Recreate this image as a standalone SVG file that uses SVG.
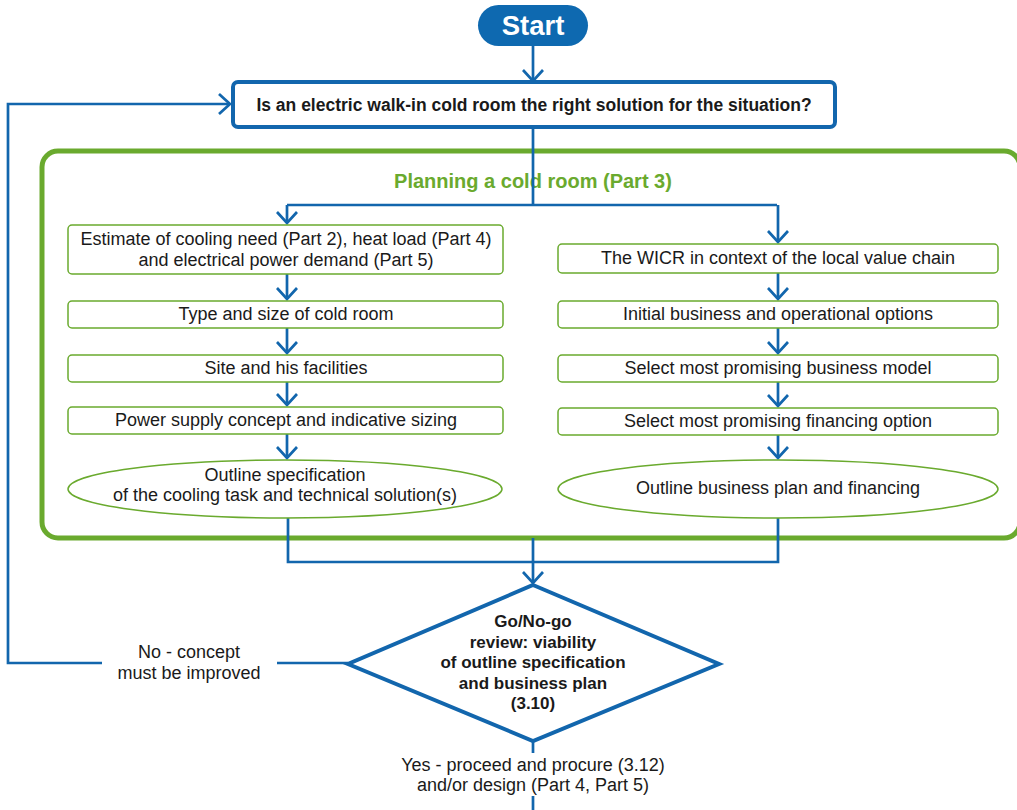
<svg xmlns="http://www.w3.org/2000/svg" width="1017" height="810" viewBox="0 0 1017 810">
<style>
.t{font-family:"Liberation Sans",Arial,sans-serif;font-size:18px;fill:#1a1a1a;text-anchor:middle}
.b{font-weight:bold}
.gbox{fill:#fff;stroke:#6aaa2e;stroke-width:1.5}
.con{fill:none;stroke:#1266ad;stroke-width:2.7}
.blue{fill:#fff;stroke:#1266ad;stroke-width:4}
</style>
<defs>
<marker id="arr" markerUnits="userSpaceOnUse" viewBox="-13 -12 15 24" refX="0" refY="0" markerWidth="15" markerHeight="24" orient="auto">
<path d="M-11,-10 L0,0 L-11,10" fill="none" stroke="#1266ad" stroke-width="2.7"/>
</marker>
</defs>
<rect width="1017" height="810" fill="#fff"/>
<g id="frame">
<rect x="42" y="151" width="978" height="387" rx="16" fill="none" stroke="#6aaa2e" stroke-width="5"/>
<text class="t b" x="533" y="188" style="fill:#6aaa2e;font-size:20px">Planning a cold room (Part 3)</text>
</g>
<g id="connectors">
<path class="con" d="M533,46 V81" marker-end="url(#arr)"/>
<path class="con" d="M102,663 H8 V104 H230" marker-end="url(#arr)"/>
<path class="con" d="M277,663 H348"/>
<path class="con" d="M533,128 V205"/>
<path class="con" d="M287,205 H777"/>
<path class="con" d="M287,205 V223" marker-end="url(#arr)"/>
<path class="con" d="M778,205 V242" marker-end="url(#arr)"/>
<path class="con" d="M287,274 V299" marker-end="url(#arr)"/>
<path class="con" d="M287,328 V353" marker-end="url(#arr)"/>
<path class="con" d="M287,382 V405" marker-end="url(#arr)"/>
<path class="con" d="M287,434 V458" marker-end="url(#arr)"/>
<path class="con" d="M778,273 V299" marker-end="url(#arr)"/>
<path class="con" d="M778,328 V353" marker-end="url(#arr)"/>
<path class="con" d="M778,382 V406" marker-end="url(#arr)"/>
<path class="con" d="M778,435 V458" marker-end="url(#arr)"/>
<path class="con" d="M288,518 V562 H778 V518"/>
<path class="con" d="M533,538 V583" marker-end="url(#arr)"/>
<path class="con" d="M533,741 V753"/>
<path class="con" d="M533,796 V810"/>
</g>
<g id="start">
<rect x="478" y="5" width="110" height="41" rx="20.5" fill="#0e69b0"/>
<text class="t b" x="533" y="35" style="fill:#fff;font-size:27.5px">Start</text>
</g>
<g id="question">
<rect class="blue" x="233" y="82" width="602" height="45" rx="5"/>
<text class="t b" x="534" y="111" style="font-size:17.5px">Is an electric walk-in cold room the right solution for the situation?</text>
</g>
<g id="l1">
<rect class="gbox" x="68" y="225" width="435" height="49" rx="4"/>
<text class="t" x="286" y="245">Estimate of cooling need (Part 2), heat load (Part 4)</text>
<text class="t" x="286" y="266">and electrical power demand (Part 5)</text>
</g>
<g id="l2">
<rect class="gbox" x="68" y="301" width="435" height="27" rx="4"/>
<text class="t" x="286" y="320">Type and size of cold room</text>
</g>
<g id="l3">
<rect class="gbox" x="68" y="355" width="435" height="27" rx="4"/>
<text class="t" x="286" y="374">Site and his facilities</text>
</g>
<g id="l4">
<rect class="gbox" x="68" y="407" width="435" height="27" rx="4"/>
<text class="t" x="286" y="426">Power supply concept and indicative sizing</text>
</g>
<g id="l5">
<ellipse class="gbox" cx="285" cy="489" rx="217" ry="29"/>
<text class="t" x="285" y="481">Outline specification</text>
<text class="t" x="285" y="501">of the cooling task and technical solution(s)</text>
</g>
<g id="r1">
<rect class="gbox" x="558" y="244" width="440" height="29" rx="4"/>
<text class="t" x="778" y="264">The WICR in context of the local value chain</text>
</g>
<g id="r2">
<rect class="gbox" x="558" y="301" width="440" height="27" rx="4"/>
<text class="t" x="778" y="320">Initial business and operational options</text>
</g>
<g id="r3">
<rect class="gbox" x="558" y="355" width="440" height="27" rx="4"/>
<text class="t" x="778" y="374">Select most promising business model</text>
</g>
<g id="r4">
<rect class="gbox" x="558" y="408" width="440" height="27" rx="4"/>
<text class="t" x="778" y="427">Select most promising financing option</text>
</g>
<g id="r5">
<ellipse class="gbox" cx="778" cy="489" rx="220" ry="29"/>
<text class="t" x="778" y="494">Outline business plan and financing</text>
</g>
<g id="decision">
<polygon class="blue" points="533,585 719,664 533,741 348,664"/>
<text class="t b" x="533" y="627" style="font-size:17px">Go/No-go</text>
<text class="t b" x="533" y="648" style="font-size:17px">review: viability</text>
<text class="t b" x="533" y="668" style="font-size:17px">of outline specification</text>
<text class="t b" x="533" y="689" style="font-size:17px">and business plan</text>
<text class="t b" x="533" y="709" style="font-size:17px">(3.10)</text>
</g>
<g id="labels">
<text class="t" x="189" y="658">No - concept</text>
<text class="t" x="189" y="679">must be improved</text>
<text class="t" x="533" y="771">Yes - proceed and procure (3.12)</text>
<text class="t" x="533" y="791">and/or design (Part 4, Part 5)</text>
</g>
</svg>
